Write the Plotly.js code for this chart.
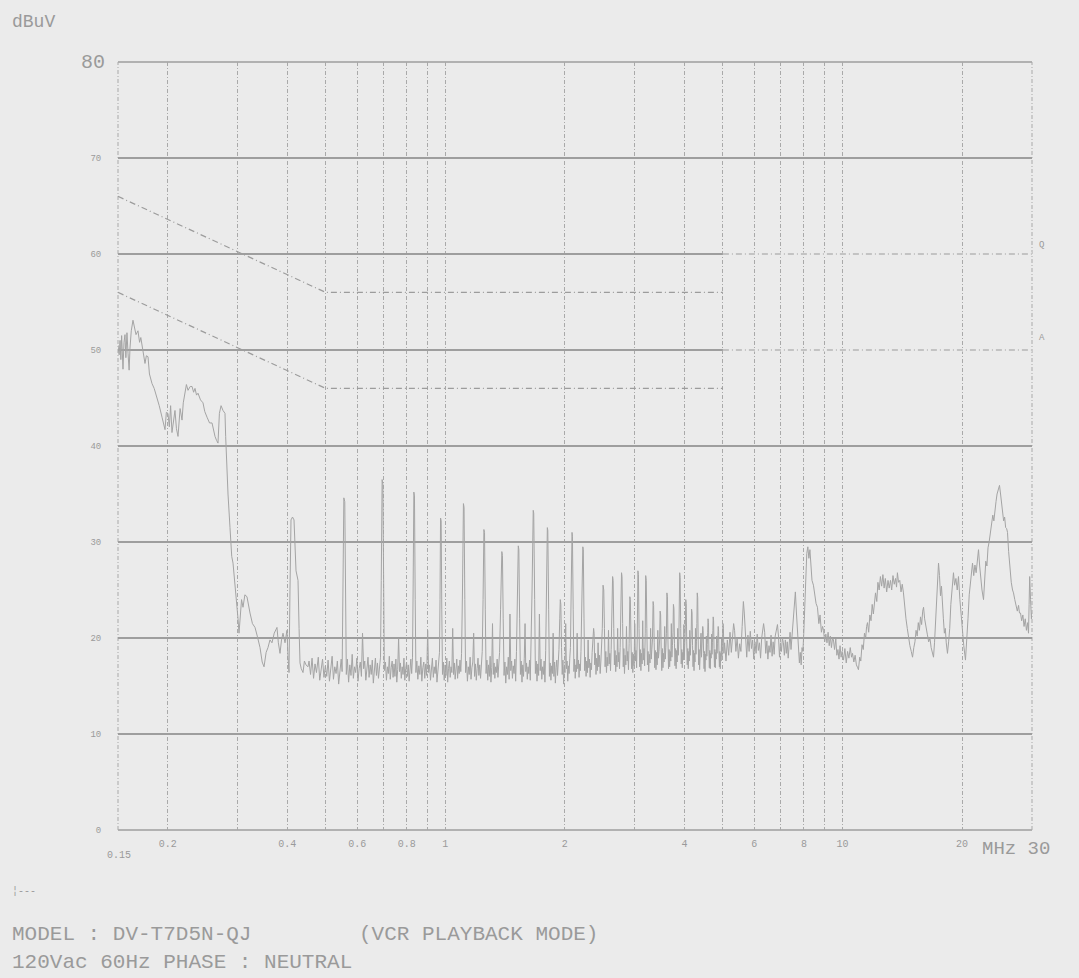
<!DOCTYPE html>
<html>
<head>
<meta charset="utf-8">
<script src="https://cdn.plot.ly/plotly-3.0.1.min.js"></script>
<style>html,body{margin:0;padding:0;background:#ebebeb;}#chart{width:1079px;height:978px;}</style>
</head>
<body>
<div id="chart"></div>
<script>
// ---- Data (frequency in MHz, level in dBuV) ----
const scanBelow450k = [
[0.150,50.5],[0.1510,49.5],[0.1518,51],[0.1525,49],[0.1532,51.5],[0.1544,48],[0.1553,50.8],[0.1562,51.6],[0.1570,49.2],[0.1580,51.8],
[0.1590,49.6],[0.1600,47.9],[0.1608,50.2],[0.1620,52],[0.1636,53.1],[0.1650,52.4],[0.1665,51.6],[0.1684,52],[0.1700,50.8],[0.1712,51.3],
[0.1724,50.5],[0.1738,49.8],[0.1754,48.6],[0.1768,49.4],[0.1785,49.3],[0.1800,47.5],[0.1827,46.5],[0.1850,46],[0.1881,45.1],[0.1905,44.2],
[0.1936,43],[0.1950,42.4],[0.1970,41.7],[0.1985,43.5],[0.2004,43.4],[0.2020,42],[0.2035,44.2],[0.2051,41.4],[0.2070,43],[0.2087,43.7],
[0.2105,41.8],[0.2124,41],[0.2150,43.9],[0.2174,42.7],[0.2190,44.5],[0.2212,45.8],[0.2230,46.4],[0.2251,45.8],[0.2280,46.2],[0.2304,46.2],
[0.2325,45.6],[0.2344,46],[0.2365,45.3],[0.2385,45.5],[0.2420,44.8],[0.2455,44.5],[0.2480,43.6],[0.2513,43],[0.2550,42.4],[0.2587,42.4],
[0.2610,41.5],[0.2632,41],[0.2655,40.6],[0.2678,40.3],[0.2700,43.4],[0.2726,44.2],[0.2757,43.7],[0.2789,43.4],[0.2800,41],[0.2815,38.2],
[0.2838,35],[0.2871,31.5],[0.2900,28.5],[0.2922,27.8],[0.2956,25.5],[0.2985,24.3],[0.3008,22],[0.3025,20.5],[0.3043,22.5],[0.3070,24],
[0.3096,23.2],[0.3130,24.5],[0.3168,24.3],[0.3200,23],[0.3224,22.6],[0.3270,21.5],[0.3319,21.1],[0.3363,20.2],[0.3417,19],[0.3460,17.5],
[0.3497,17],[0.3540,18.5],[0.3578,19],[0.3620,19.8],[0.3662,19.5],[0.3710,20.5],[0.3770,21.1],[0.3800,19.5],[0.3837,18.4],[0.3870,19.8],
[0.3904,20.5],[0.3950,19.5],[0.3995,20.8],[0.4020,18],[0.4042,16.4],[0.4065,25],[0.4089,32.3],[0.4125,32.6],[0.4161,32.3],[0.4210,27],
[0.4259,26],[0.4285,21],[0.4308,17.4],[0.4340,16.8],[0.4384,16.4],[0.4420,17.6],[0.4460,17.2],[0.4512,17]
];

const scan450kTo5M = [
[0.4540,17.6],[0.4580,16.2],[0.4620,17.9],[0.4660,15.8],[0.4700,17.3],[0.4740,16.4],[0.4790,18.0],[0.4830,15.6],[0.4870,16.9],[0.4910,17.8],
[0.4950,15.9],[0.4990,17.1],[0.5030,16.0],[0.5070,17.7],[0.5110,15.5],[0.5150,16.8],[0.5190,18.1],[0.5230,15.7],[0.5270,17.0],[0.5310,16.3],
[0.5350,17.6],[0.5390,15.2],[0.5430,16.9],[0.5470,17.8],[0.5500,16.5],[0.5530,24],[0.5555,34.6],[0.5585,34.2],[0.5610,25],[0.5635,16.2],
[0.5670,17.8],[0.5710,15.4],[0.5750,17.2],[0.5790,16.1],[0.5830,18.3],[0.5870,15.8],[0.5910,17.0],[0.5950,16.4],[0.5990,17.9],[0.6030,15.5],
[0.6070,16.8],[0.6110,17.5],[0.6150,16.0],[0.6190,20.5],[0.6230,16.8],[0.6270,17.6],[0.6310,15.6],[0.6350,16.9],[0.6390,18.0],[0.6430,15.9],
[0.6470,17.2],[0.6510,16.2],[0.6550,17.7],[0.6590,15.3],[0.6630,16.8],[0.6670,17.9],[0.6710,16.1],[0.6750,17.4],[0.6790,15.8],[0.6830,16.9],
[0.6870,18],[0.6900,26],[0.6935,36.5],[0.6965,36.0],[0.6995,27],[0.7025,16.6],
[0.7070,17.5],[0.7110,15.6],[0.7150,17.0],[0.7190,16.3],[0.7230,18.1],[0.7270,15.7],[0.7310,16.9],[0.7350,17.6],[0.7390,15.9],[0.7430,17.3],
[0.7470,16.0],[0.7510,17.8],[0.7550,15.4],[0.7590,16.7],[0.7630,20],[0.7670,16.5],[0.7710,17.4],[0.7750,15.8],[0.7790,17.0],[0.7830,16.2],
[0.7870,17.9],[0.7910,15.6],[0.7950,16.8],[0.7990,17.5],[0.8030,16.0],[0.8070,17.2],[0.8110,15.5],[0.8150,16.9],[0.8190,17.8],[0.8230,16.3],
[0.8270,18],[0.8300,25],[0.8335,35.2],[0.8365,34.8],[0.8400,24],[0.8435,16.4],
[0.8480,17.6],[0.8530,15.7],[0.8580,17.1],[0.8630,16.2],[0.8680,18.0],[0.8730,15.5],[0.8780,16.9],[0.8830,17.5],[0.8880,15.8],[0.8930,17.3],
[0.8980,16.1],[0.9030,20.8],[0.9080,16.4],[0.9130,17.2],[0.9180,15.6],[0.9230,16.8],[0.9280,17.9],[0.9330,15.9],[0.9380,17.0],[0.9430,16.3],
[0.9480,17.7],[0.9530,15.4],[0.9580,16.9],[0.9630,17.6],[0.9670,18.5],[0.9700,24],[0.9730,32.5],[0.9765,32.2],[0.9800,23],[0.9840,16.2],
[0.9890,17.5],[0.9940,15.6],[0.9990,17.2],[1.0040,16.1],[1.0090,17.9],[1.0140,15.4],[1.0190,16.8],[1.0240,17.6],[1.0290,15.9],[1.0340,17.0],
[1.0390,16.4],[1.0440,21.0],[1.0490,16.2],[1.0540,17.4],[1.0590,15.7],[1.0640,16.9],[1.0690,17.8],[1.0740,15.8],[1.0790,17.1],[1.0840,16.3],
[1.0890,17.7],[1.0940,16.5],[1.0990,18.4],[1.1050,25],[1.1110,34],[1.1150,33.6],[1.1200,24],[1.1250,16.4],
[1.1310,17.6],[1.1370,15.5],[1.1430,17.0],[1.1490,16.2],[1.1550,18.0],[1.1610,15.7],[1.1670,16.9],[1.1730,17.5],[1.1790,20.5],[1.1850,16.0],
[1.1910,17.3],[1.1970,15.6],[1.2030,16.8],[1.2090,17.9],[1.2150,16.1],[1.2210,17.2],[1.2270,15.8],[1.2330,17.5],[1.2390,18.6],[1.2450,24],
[1.2510,31.3],[1.2555,31.0],[1.2610,23],[1.2670,16.3],
[1.2730,17.7],[1.2790,15.6],[1.2850,17.2],[1.2910,16.0],[1.2970,18.1],[1.3030,15.4],[1.3090,16.9],[1.3150,21.5],[1.3210,16.2],[1.3270,17.4],
[1.3330,15.8],[1.3390,17.0],[1.3450,16.4],[1.3510,17.8],[1.3570,15.9],[1.3630,17.1],[1.3700,18.5],[1.3780,23],[1.3880,29.0],[1.3930,28.6],
[1.3990,22],[1.4060,16.1],
[1.4130,17.5],[1.4200,15.3],[1.4270,17.0],[1.4340,16.2],[1.4410,18.0],[1.4480,15.7],[1.4550,22.5],[1.4620,16.6],[1.4690,17.6],[1.4760,15.8],
[1.4830,17.1],[1.4900,16.3],[1.4970,17.8],[1.5040,15.5],[1.5110,18.6],[1.5180,23],[1.5270,29.6],[1.5320,29.2],[1.5390,22],[1.5460,16.2],
[1.5530,17.6],[1.5600,15.4],[1.5670,17.2],[1.5740,16.0],[1.5810,17.9],[1.5880,21.5],[1.5950,16.5],[1.6020,17.4],[1.6090,15.7],[1.6160,17.0],
[1.6230,16.3],[1.6300,17.7],[1.6370,15.6],[1.6440,18.5],[1.6540,25],[1.6650,33.3],[1.6700,33.0],[1.6790,24],[1.6860,16.3],
[1.6940,17.6],[1.7020,15.5],[1.7100,17.3],[1.7180,16.1],[1.7260,22.5],[1.7340,16.6],[1.7420,17.8],[1.7500,15.7],[1.7580,17.0],[1.7660,16.2],
[1.7740,17.6],[1.7820,15.4],[1.7900,18.7],[1.7980,25],[1.8070,31.5],[1.8120,31.2],[1.8210,23],[1.8290,16.0],
[1.8370,17.4],[1.8450,15.6],[1.8530,17.1],[1.8610,16.3],[1.8690,20.5],[1.8770,16.0],[1.8850,17.5],[1.8930,15.3],[1.9010,16.9],[1.9090,17.7],
[1.9170,16.1],[1.9250,17.3],[1.9330,18.8],[1.9420,22],[1.9480,24],[1.9540,23.5],[1.9620,19],[1.9700,16.2],
[1.9780,17.7],[1.9860,15.2],[1.9940,17.0],[2.0020,16.4],[2.0100,21.5],[2.0180,16.8],[2.0260,17.6],[2.0340,15.5],[2.0420,17.1],[2.0500,16.3],
[2.0580,17.9],[2.0660,19],[2.0750,25],[2.0850,31.0],[2.0900,30.6],[2.0990,23],[2.1080,16.5],
[2.1160,17.8],[2.1240,15.8],[2.1320,17.2],[2.1400,16.5],[2.1480,20.5],[2.1560,16.8],[2.1640,17.7],[2.1720,15.9],[2.1800,17.3],[2.1880,16.6],
[2.1960,18.6],[2.2050,23],[2.2200,29.5],[2.2260,29.2],[2.2350,22],[2.2440,16.6],
[2.2530,18.0],[2.2620,16.0],[2.2710,17.6],[2.2800,16.4],[2.2890,19.8],[2.2980,16.9],[2.3070,17.8],[2.3160,15.9],[2.3250,17.4],[2.3340,16.7],
[2.3430,18.5],[2.3530,20],[2.3630,21.0],[2.3700,20.5],[2.3780,17.2],
[2.3870,18.4],[2.3960,16.2],[2.4050,17.9],[2.4150,16.6],[2.4250,19.5],[2.4350,17.0],[2.4450,18.2],[2.4550,16.3],[2.4650,17.6],[2.4750,18.9],
[2.4850,21],[2.4960,25.5],[2.5060,25.0],[2.5160,21],[2.5260,17.0],
[2.5360,18.6],[2.5460,16.4],[2.5560,18.0],[2.5660,17.1],[2.5760,20.8],[2.5860,17.3],[2.5960,18.4],[2.6060,16.6],[2.6160,18.8],[2.6260,21.5],
[2.6380,26.4],[2.6460,26.0],[2.6560,21],[2.6660,17.2],
[2.6760,18.7],[2.6860,16.5],[2.6960,18.2],[2.7060,17.0],[2.7160,21],[2.7260,17.5],[2.7360,18.5],[2.7460,16.8],[2.7560,19],[2.7660,22],
[2.7780,26.8],[2.7860,26.4],[2.7960,21.5],[2.8060,17.0],
[2.8160,18.9],[2.8260,16.3],[2.8370,18.2],[2.8480,17.2],[2.8590,21.2],[2.8700,17.6],[2.8810,18.6],[2.8920,16.7],[2.9030,19.4],[2.9150,24.3],
[2.9240,24.0],[2.9340,20],[2.9440,16.8],
[2.9550,18.5],[2.9660,16.4],[2.9770,18.3],[2.9880,17.1],[2.9990,21.5],[3.0100,17.6],[3.0210,18.7],[3.0320,16.9],[3.0430,20],[3.0550,27.0],
[3.0640,26.6],[3.0750,21],[3.0860,17.0],
[3.0970,18.8],[3.1080,16.6],[3.1190,18.4],[3.1300,17.3],[3.1410,21.8],[3.1520,17.7],[3.1640,18.9],[3.1760,17.1],[3.1870,20.5],[3.1960,26.5],
[3.2060,26.0],[3.2170,21],[3.2280,17.2],
[3.2400,18.6],[3.2520,16.5],[3.2640,18.3],[3.2760,17.4],[3.2880,21.0],[3.3000,17.8],[3.3120,18.8],[3.3240,19.8],[3.3360,23.8],[3.3460,23.4],
[3.3570,19.5],[3.3680,16.9],
[3.3800,18.7],[3.3920,16.7],[3.4040,18.5],[3.4160,17.2],[3.4280,20.8],[3.4400,17.9],[3.4520,18.6],[3.4640,19.8],[3.4750,22.8],[3.4850,22.4],
[3.4960,18.8],[3.5080,16.6],
[3.5200,18.9],[3.5320,16.9],[3.5440,18.4],[3.5560,17.5],[3.5680,21.2],[3.5800,17.8],[3.5920,19.0],[3.6040,20.5],[3.6140,24.7],[3.6250,24.3],
[3.6360,19.8],[3.6480,16.8],
[3.6600,18.8],[3.6720,17.0],[3.6840,18.6],[3.6960,17.6],[3.7080,21.5],[3.7200,18.0],[3.7320,19.2],[3.7440,20.6],[3.7530,23.5],[3.7640,23.1],
[3.7760,19.4],[3.7880,17.1],
[3.8000,18.9],[3.8120,16.8],[3.8240,18.7],[3.8360,17.5],[3.8480,21.0],[3.8600,18.2],[3.8720,19.6],[3.8820,22.5],[3.8920,26.8],[3.9030,26.3],
[3.9150,21],[3.9270,17.3],
[3.9390,18.8],[3.9510,16.9],[3.9630,18.5],[3.9750,17.7],[3.9870,21.4],[3.9990,18.1],[4.0110,19.5],[4.0220,21.2],[4.0310,24.0],[4.0420,23.6],
[4.0540,19.6],[4.0660,17.2],
[4.0780,18.9],[4.0900,16.8],[4.1020,18.6],[4.1140,17.6],[4.1260,20.8],[4.1380,18.2],[4.1500,19.4],[4.1610,20.8],[4.1700,23.0],[4.1810,22.6],
[4.1930,19.2],[4.2050,17.0],
[4.2170,18.7],[4.2290,16.6],[4.2410,18.4],[4.2530,17.5],[4.2650,21.0],[4.2770,18.3],[4.2890,19.6],[4.3000,21.5],[4.3090,24.7],[4.3200,24.2],
[4.3320,20],[4.3440,17.2],
[4.3560,18.8],[4.3680,16.7],[4.3800,18.5],[4.3920,17.8],[4.4040,20.5],[4.4160,18.0],[4.4280,19.2],[4.4400,20.2],[4.4480,21.2],[4.4590,20.8],
[4.4710,18.4],[4.4830,16.8],
[4.4950,18.6],[4.5070,16.5],[4.5190,18.3],[4.5310,17.7],[4.5430,20.2],[4.5550,18.1],[4.5670,19.3],[4.5780,20.6],[4.5870,22.0],[4.5980,21.6],
[4.6100,18.6],[4.6220,16.9],
[4.6340,18.7],[4.6460,16.8],[4.6580,18.4],[4.6700,17.9],[4.6820,20.4],[4.6940,18.3],[4.7060,19.5],[4.7170,20.8],[4.7260,22.2],[4.7370,21.8],
[4.7490,18.9],[4.7610,17.0],
[4.7730,18.8],[4.7850,16.9],[4.7970,18.5],[4.8090,17.8],[4.8210,20.2],[4.8330,18.4],[4.8450,19.4],[4.8560,20.2],[4.8650,21.2],[4.8760,20.7],
[4.8880,18.2],[4.9000,17.0],[4.9120,18.6],[4.9240,16.8],[4.9360,18.4],[4.9480,17.6],[4.9600,19.9],[4.9720,18.1],[4.9840,19.3],[4.9950,20.6],
[5.0040,21.5],[5.0150,21.0],[5.0280,18.4]
];

const scan5MTo30M = [
[5.05,19.5],[5.09,17.6],[5.13,19.8],[5.17,18.2],[5.21,20.6],[5.25,18.5],[5.29,19.9],[5.32,21.5],[5.35,20.8],[5.39,18.6],
[5.43,20.0],[5.47,17.9],[5.51,19.4],[5.55,18.6],[5.59,21.2],[5.63,23.8],[5.66,22.6],[5.70,19.5],[5.74,18.0],[5.78,20.3],
[5.82,18.6],[5.86,20.7],[5.90,18.9],[5.94,19.8],[5.98,17.8],[6.02,19.6],[6.06,18.4],[6.10,20.4],[6.14,18.7],[6.18,19.5],
[6.22,17.9],[6.26,20.0],[6.30,20.8],[6.33,21.5],[6.37,20.6],[6.41,18.4],[6.45,19.7],[6.49,17.8],[6.53,19.2],[6.57,18.5],
[6.61,20.3],[6.65,18.1],[6.69,19.6],[6.73,18.3],[6.77,20.2],[6.81,20.6],[6.86,21.4],[6.90,20.2],[6.94,18.0],[6.98,19.5],
[7.02,18.6],[7.06,20.0],[7.10,19.5],[7.14,18.2],[7.18,19.8],[7.22,18.4],[7.26,19.6],[7.30,17.9],[7.34,19.4],[7.38,20.6],
[7.42,18.8],[7.46,20.2],[7.50,21.6],[7.55,23.4],[7.61,24.8],[7.66,22.5],[7.71,20.4],[7.75,19.0],[7.79,17.4],[7.83,18.5],
[7.87,17.2],[7.91,19.0],[7.95,18.6],[7.99,20.5],
[8.03,22.5],[8.08,26.5],[8.13,28.8],[8.18,29.5],[8.23,28.3],[8.28,29.2],[8.33,28.0],[8.38,26.0],[8.45,25.5],[8.52,24.2],
[8.58,23.6],[8.65,23.2],[8.72,21.5],[8.78,22.4],[8.85,20.6],[8.91,21.2],[8.96,20.8],[9.02,19.6],[9.08,20.4],[9.14,19.5],
[9.20,20.6],[9.26,19.2],[9.32,20.2],[9.38,19.0],[9.44,20.0],[9.49,19.8],[9.55,18.8],[9.62,19.9],[9.68,18.2],[9.74,18.8],
[9.80,17.8],[9.86,19.2],[9.92,18.0],[9.98,18.6],[10.06,17.7],[10.14,18.9],[10.22,17.4],[10.30,18.6],[10.38,17.9],[10.46,19.0],
[10.54,18.0],[10.60,18.4],[10.68,17.5],[10.76,18.2],[10.84,17.2],[10.92,16.9],[10.97,16.7],[11.05,18.0],[11.12,17.6],[11.20,19.3],
[11.28,18.8],[11.36,20.5],[11.44,20.0],[11.50,21.2],[11.56,21.6],[11.64,20.6],[11.72,22.4],[11.80,21.8],[11.88,23.5],[11.96,22.5],
[12.04,24.2],[12.11,24.7],[12.20,23.8],[12.28,25.8],[12.37,25.0],[12.46,26.4],[12.55,25.4],[12.64,26.6],[12.73,25.2],[12.82,26.2],
[12.92,24.8],[13.02,26.0],[13.11,25.2],[13.21,26.0],[13.30,25.0],[13.40,26.5],[13.50,25.6],[13.60,26.2],[13.68,25.3],[13.75,26.8],
[13.84,25.8],[13.94,26.0],[14.04,24.8],[14.14,25.6],[14.24,24.7],[14.34,23.2],[14.45,22.0],[14.56,21.0],[14.67,20.0],[14.78,19.2],
[14.90,18.6],[15.01,18.0],[15.12,19.0],[15.22,19.6],[15.32,20.8],[15.42,20.2],[15.52,21.6],[15.62,20.8],[15.72,22.2],[15.82,21.4],
[15.92,22.8],[16.00,23.2],[16.10,22.0],[16.22,21.0],[16.35,20.4],[16.48,19.6],[16.60,20.0],[16.72,19.0],[16.84,18.6],[16.95,18.0],
[17.05,19.5],[17.15,21.5],[17.25,24.0],[17.35,26.0],[17.45,27.8],[17.55,26.5],[17.65,24.4],[17.75,25.4],[17.85,23.0],[17.95,22.0],
[18.05,20.5],[18.15,21.0],[18.25,19.5],[18.38,18.4],[18.50,19.6],[18.62,21.0],[18.74,23.5],[18.86,25.2],[19.03,26.8],[19.15,25.5],
[19.30,26.2],[19.45,25.0],[19.59,26.4],[19.75,24.0],[19.90,22.0],[20.05,20.5],[20.20,19.2],[20.40,17.7],[20.55,19.5],[20.70,22.0],
[20.85,24.5],[21.00,26.0],[21.12,26.8],[21.25,27.8],[21.40,26.5],[21.55,27.6],[21.70,26.8],[21.85,28.2],[22.00,29.2],[22.15,27.5],
[22.30,26.0],[22.45,25.0],[22.65,24.0],[22.80,26.5],[22.95,28.0],[23.10,27.5],[23.25,29.4],[23.40,30.0],[23.58,31.0],[23.75,31.5],
[23.90,32.8],[24.05,32.2],[24.20,33.5],[24.35,34.2],[24.50,35.0],[24.65,35.5],[24.85,35.9],[25.00,35.0],[25.15,33.8],[25.30,33.0],
[25.45,32.2],[25.60,32.6],[25.75,31.5],[25.90,31.4],[26.03,31.0],[26.20,29.0],[26.40,27.0],[26.60,25.8],[26.80,25.0],[26.95,24.7],
[27.15,24.0],[27.35,23.2],[27.55,22.8],[27.75,23.4],[27.90,22.6],[28.07,22.6],[28.25,21.8],[28.45,22.4],[28.65,21.2],[28.85,22.0],
[29.05,20.8],[29.25,21.6],[29.40,20.5],[29.50,23.5],[29.60,26.4],[29.75,24.0],[29.90,22.0],[30.00,22.6]
];

// Limit lines (CISPR 22 class B)
const qpLimitFreq = [0.15, 0.5, 5];
const qpLimitLevel = [66, 56, 56];
const qpLimitFreqHigh = [5, 30];
const qpLimitLevelHigh = [60, 60];
const avLimitFreq = [0.15, 0.5, 5];
const avLimitLevel = [56, 46, 46];
const avLimitFreqHigh = [5, 30];
const avLimitLevelHigh = [50, 50];

// Axis grid / labels
const xGridFreq = [0.15,0.2,0.3,0.4,0.5,0.6,0.7,0.8,0.9,1,2,3,4,5,6,7,8,9,10,20,30];
const xTickText = ['','0.2','','0.4','','0.6','','0.8','','1','2','','4','','6','','8','','10','20',''];
const yGridLevel = [0,10,20,30,40,50,60,70,80];
const yTickText = ['0','10','20','30','40','50','60','70',''];

const scan = scanBelow450k.concat(scan450kTo5M, scan5MTo30M);
const scanFreq = scan.map(p => p[0]);
const scanLevel = scan.map(p => p[1]);

const bg = '#ebebeb';
const limitStyle = {color:'#9c9c9c', width:1.2, dash:'6px,3px,1px,3px'};
const traces = [
  // mask the solid gridline where the 5-30 MHz limit segments lie on it
  {x:qpLimitFreqHigh, y:qpLimitLevelHigh, mode:'lines', line:{color:bg, width:3}, hoverinfo:'skip'},
  {x:avLimitFreqHigh, y:avLimitLevelHigh, mode:'lines', line:{color:bg, width:3}, hoverinfo:'skip'},
  {x:qpLimitFreq, y:qpLimitLevel, mode:'lines', line:limitStyle, hoverinfo:'skip'},
  {x:qpLimitFreqHigh, y:qpLimitLevelHigh, mode:'lines', line:limitStyle, hoverinfo:'skip'},
  {x:avLimitFreq, y:avLimitLevel, mode:'lines', line:limitStyle, hoverinfo:'skip'},
  {x:avLimitFreqHigh, y:avLimitLevelHigh, mode:'lines', line:limitStyle, hoverinfo:'skip'},
  {x:scanFreq, y:scanLevel, mode:'lines', line:{color:'#a4a4a4', width:1}, hoverinfo:'skip'}
];

const txt = '#9a9a9a';
const mono = 'Liberation Mono, DejaVu Sans Mono, monospace';
const layout = {
  width:1079, height:978,
  paper_bgcolor:bg, plot_bgcolor:bg,
  margin:{l:118, r:47, t:62, b:148},
  showlegend:false,
  xaxis:{
    type:'log', range:[Math.log10(0.15), Math.log10(30)],
    tickmode:'array', tickvals:xGridFreq, ticktext:xTickText,
    showgrid:true, gridcolor:'#a9a9a9', gridwidth:1, griddash:'4px,2px,1px,2px',
    zeroline:false, showline:false,
    ticks:'outside', ticklen:4, tickcolor:'rgba(0,0,0,0)',
    tickfont:{family:mono, size:10, color:txt}
  },
  yaxis:{
    range:[0,80], tickmode:'array', tickvals:yGridLevel, ticktext:yTickText,
    showgrid:true, gridcolor:'#9e9e9e', gridwidth:1.5,
    zeroline:false, showline:false,
    ticks:'outside', ticklen:14, tickcolor:'rgba(0,0,0,0)',
    tickfont:{family:mono, size:9, color:txt}
  },
  shapes:[
    {type:'line', xref:'paper', yref:'paper', x0:0, x1:1, y0:1, y1:1, line:{color:'#9e9e9e', width:1.5}, layer:'below'},
    {type:'line', xref:'paper', yref:'paper', x0:0, x1:1, y0:0, y1:0, line:{color:'#9e9e9e', width:1.5}, layer:'below'},
    {type:'line', xref:'paper', yref:'paper', x0:0, x1:0, y0:0, y1:1, line:{color:'#a9a9a9', width:1, dash:'4px,2px,1px,2px'}, layer:'below'},
    {type:'line', xref:'paper', yref:'paper', x0:1, x1:1, y0:0, y1:1, line:{color:'#a9a9a9', width:1, dash:'4px,2px,1px,2px'}, layer:'below'}
  ],
  annotations:[
    {text:'dBuV', xref:'paper', yref:'paper', x:-0.1182, y:1.0521, xanchor:'left', yanchor:'middle', showarrow:false, font:{family:mono, size:18, color:txt}},
    {text:'80', xref:'paper', yref:'paper', x:-0.012, y:1.0, xanchor:'right', yanchor:'middle', showarrow:false, font:{family:mono, size:20, color:txt}},
    {text:'0.15', xref:'paper', yref:'paper', x:0.001, y:-0.0326, xanchor:'center', yanchor:'middle', showarrow:false, font:{family:mono, size:10, color:txt}},
    {text:'MHz 30', xref:'paper', yref:'paper', x:0.9431, y:-0.0247, xanchor:'left', yanchor:'middle', showarrow:false, font:{family:mono, size:19, color:txt}},
    {text:'Q', xref:'paper', yref:'paper', x:1.006, y:0.7617, xanchor:'left', yanchor:'middle', showarrow:false, font:{family:mono, size:9, color:txt}},
    {text:'A', xref:'paper', yref:'paper', x:1.006, y:0.640, xanchor:'left', yanchor:'middle', showarrow:false, font:{family:mono, size:9, color:txt}},
    {text:'¦---', xref:'paper', yref:'paper', x:-0.1182, y:-0.0807, xanchor:'left', yanchor:'middle', showarrow:false, font:{family:mono, size:10, color:txt}},
    {text:'MODEL : DV-T7D5N-QJ', xref:'paper', yref:'paper', x:-0.1182, y:-0.1367, xanchor:'left', yanchor:'middle', showarrow:false, font:{family:mono, size:21, color:txt}},
    {text:'(VCR PLAYBACK MODE)', xref:'paper', yref:'paper', x:0.2615, y:-0.1367, xanchor:'left', yanchor:'middle', showarrow:false, font:{family:mono, size:21, color:txt}},
    {text:'120Vac 60Hz PHASE : NEUTRAL', xref:'paper', yref:'paper', x:-0.1182, y:-0.1719, xanchor:'left', yanchor:'middle', showarrow:false, font:{family:mono, size:21, color:txt}}
  ]
};

Plotly.newPlot('chart', traces, layout, {staticPlot:true, displayModeBar:false});
</script>
</body>
</html>
